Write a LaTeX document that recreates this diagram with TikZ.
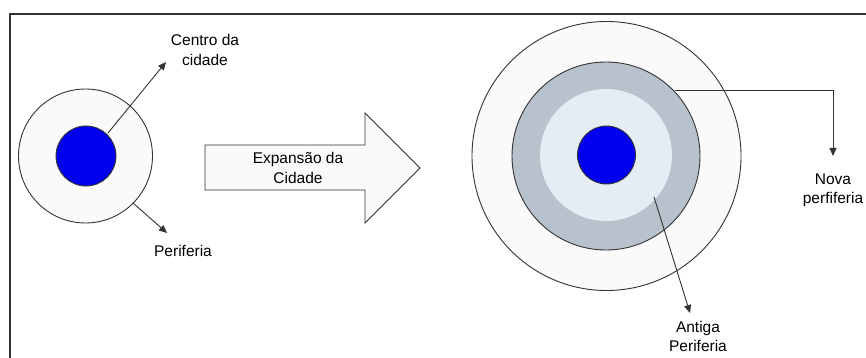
\documentclass[tikz,border=0pt]{standalone}
\usepackage{fontspec}
\setmainfont{Liberation Sans}
\usetikzlibrary{shapes.arrows,arrows.meta}
\definecolor{ringgray}{HTML}{B8C2CD}
\definecolor{lightblue}{HTML}{E4ECF4}
\definecolor{outerfill}{HTML}{FAFAFA}
\definecolor{core}{HTML}{0000EE}
\definecolor{linec}{HTML}{333333}
\tikzset{
  ring/.style={circle, draw=linec, line width=0.9pt, inner sep=0pt},
  lbl/.style={align=center, font=\fontsize{15.5}{19.5}\selectfont, inner sep=0pt},
  conn/.style={draw=linec, line width=0.9pt, -{Triangle[length=8pt,width=7pt]}},
}
\begin{document}
\begin{tikzpicture}[x=1pt,y=-1pt]
\useasboundingbox (0,0) rectangle (866,358);
\fill[white] (0,0) rectangle (866,358);
% frame
\draw[draw=linec, line width=1.5pt] (10,358) -- (10,14) -- (866,14);

% left city
\node[ring, fill=outerfill, minimum size=134pt] (lout) at (85.5,156) {};
\node[ring, fill=core, minimum size=60pt] (lcore) at (86,156) {};
\node[lbl] (centro) at (205,50) {Centro da\\cidade};
\node[lbl] (perif) at (183,251) {Periferia};
\coordinate (c1s) at (108,133);
\coordinate (c1e) at (166,62);
\coordinate (p1s) at (133,203);
\coordinate (p1e) at (167,233);
\draw[conn] (c1s) -- (c1e);
\draw[conn] (p1s) -- (p1e);

% big arrow
\draw[draw=linec, line width=0.9pt, fill=outerfill]
  (205,145) -- (365,145) -- (365,113) -- (420,168) -- (365,223) -- (365,190) -- (205,190) -- cycle;
\node[lbl] (exp) at (298,168) {Expansão da\\Cidade};

% right city
\node[ring, fill=outerfill, minimum size=269pt] (rout) at (606.5,156) {};
\node[ring, fill=ringgray, minimum size=188pt] (rgray) at (606,156) {};
\node[ring, draw=none, fill=lightblue, minimum size=132pt] (rlight) at (606,155) {};
\node[ring, fill=core, minimum size=58pt] (rcore) at (606.5,155) {};

\coordinate (n1s) at (675,90);
\coordinate (n1m) at (833,90);
\coordinate (n1e) at (833,156);
\draw[conn] (n1s) -- (n1m) -- (n1e);
\node[lbl] (nova) at (833,190.5) {Nova\\perfiferia};

\coordinate (a1s) at (654,197);
\coordinate (a1e) at (690,313);
\draw[conn] (a1s) -- (a1e);
\node[lbl] (antiga) at (698,336.5) {Antiga\\Periferia};
\end{tikzpicture}
\end{document}
